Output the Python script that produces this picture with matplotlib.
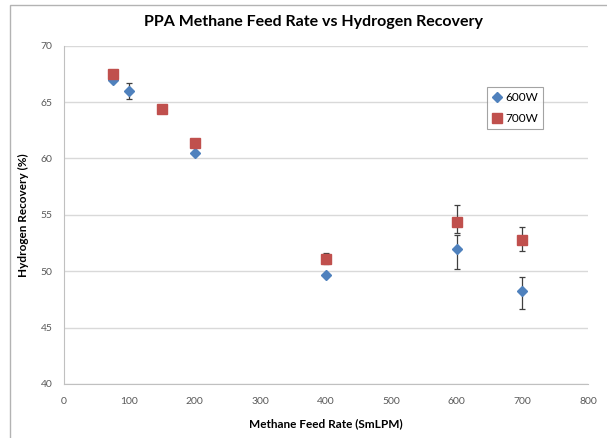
import numpy as np
import matplotlib.pyplot as plt
from matplotlib.patches import Rectangle

plt.rcParams['font.family'] = ['Lato', 'DejaVu Sans']

# 600W series
x600 = [75, 100, 200, 400, 600, 700]
y600 = [67.0, 66.0, 60.5, 49.65, 51.95, 48.25]
lo600 = [0, 0.7, 0, 0, 1.75, 1.6]
hi600 = [0, 0.7, 0, 0, 1.25, 1.25]

# 700W series
x700 = [75, 150, 200, 400, 600, 700]
y700 = [67.5, 64.4, 61.4, 51.05, 54.4, 52.8]
lo700 = [0, 0, 0, 0.45, 1.0, 1.0]
hi700 = [0, 0, 0, 0.55, 1.5, 1.15]

xticks = [0, 100, 200, 300, 400, 500, 600, 700, 800]
yticks = [40, 45, 50, 55, 60, 65, 70]

fig = plt.figure(figsize=(6.07, 4.38), dpi=100)
ax = fig.add_axes([63.5/607, 1-384/438, (588-63.5)/607, (384-45.7)/438])

# chart area border
fig.patches.append(Rectangle((10/607, -0.1), 2, 1.1-5/438, transform=fig.transFigure,
                             fill=False, edgecolor='#b3b3b3', linewidth=1))

ax.errorbar(x600, y600, yerr=[lo600, hi600], fmt='none', ecolor='#404040',
            elinewidth=0.9, capsize=2, capthick=0.9, zorder=2)
ax.errorbar(x700, y700, yerr=[lo700, hi700], fmt='none', ecolor='#404040',
            elinewidth=0.9, capsize=2, capthick=0.9, zorder=2)
ax.plot(x600, y600, 'D', color='#4F81BD', markersize=5.5, label='600W', zorder=3)
ax.plot(x700, y700, 's', color='#C0504D', markersize=6.5, label='700W', zorder=4)

ax.set_xlim(0, 800)
ax.set_ylim(40, 70)
ax.set_xticks(xticks)
ax.set_yticks(yticks)
ax.grid(axis='y', color='#d9d9d9', linewidth=1)
ax.set_axisbelow(True)
for s in ['top', 'right']:
    ax.spines[s].set_visible(False)
for s in ['left', 'bottom']:
    ax.spines[s].set_color('#c0c0c0')
ax.tick_params(length=0, labelsize=7.5, labelcolor='#595959')
ax.tick_params(axis='x', pad=9)
ax.tick_params(axis='y', pad=8)

ax.set_xlabel('Methane Feed Rate (SmLPM)', fontsize=8.5, fontweight='bold', labelpad=9)
ax.set_ylabel('Hydrogen Recovery (%)', fontsize=8.5, fontweight='bold', labelpad=8)
fig.text(313/607, 1-22/438, 'PPA Methane Feed Rate vs Hydrogen Recovery',
         ha='center', va='center', fontsize=11.5, fontweight='bold')

leg = ax.legend(loc='upper left', bbox_to_anchor=(487/607, 1-87/438),
                bbox_transform=fig.transFigure, fontsize=8.5, frameon=True,
                fancybox=False, edgecolor='#8c8c8c', handlelength=0.8,
                handletextpad=0.3, borderpad=0.45, labelspacing=0.8,
                borderaxespad=0)
leg.get_frame().set_linewidth(0.8)

fig.savefig('out.png', dpi=100)
